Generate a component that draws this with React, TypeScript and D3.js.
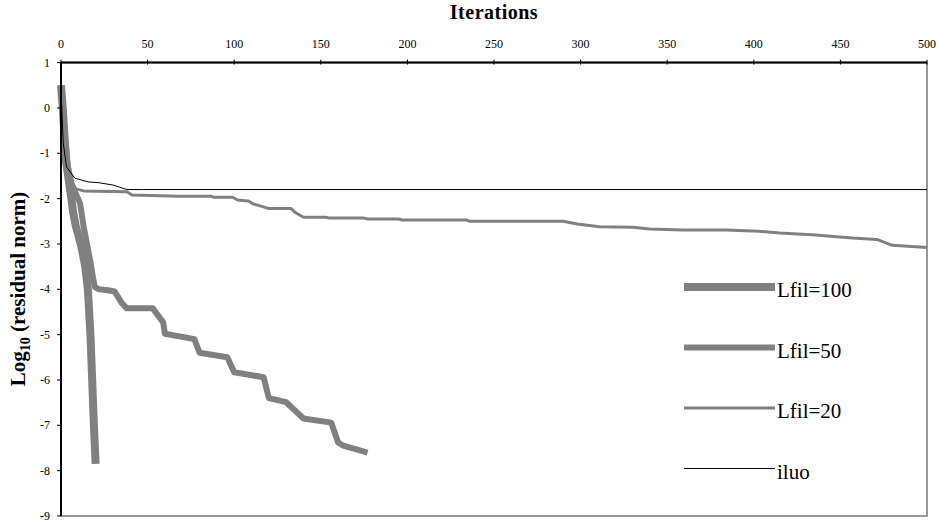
import { scaleLinear, line, range } from "d3";

// iteration vs log10(residual norm)
const lfil100 = [
  [0, 0.5], [1, 0], [2, -0.6], [3, -1.2], [4.5, -1.6], [6, -2.0], [7, -2.3],
  [8.5, -2.6], [10, -2.8], [12, -3.1], [14, -3.5], [15.5, -4.0], [17, -5.0],
  [18, -6.0], [19, -7.0], [20, -7.85],
];

const lfil50 = [
  [0, 0.5], [2, -0.5], [4, -1.3], [6, -1.65], [8, -1.85], [11, -2.1], [13, -2.6],
  [15, -3.0], [17, -3.4], [18.5, -3.75], [19.5, -3.95], [22, -4.0], [27, -4.02],
  [31, -4.05], [35, -4.3], [38, -4.42], [53, -4.42], [59, -4.73], [60, -4.98],
  [77, -5.1], [80, -5.4], [96, -5.5], [100, -5.83], [117, -5.94], [120, -6.4],
  [130, -6.49], [140, -6.85], [156, -6.94], [160, -7.38], [163, -7.45], [177, -7.6],
];

const lfil20 = [
  [0, 0.5], [1, -0.6], [2, -1.3], [5, -1.65], [8, -1.78], [13, -1.83], [38, -1.85],
  [41, -1.92], [68, -1.95], [87, -1.95], [88, -1.97], [99, -1.97], [102, -2.03],
  [108, -2.05], [111, -2.12], [116, -2.17], [120, -2.22], [133, -2.22], [135, -2.3],
  [140, -2.41], [153, -2.41], [155, -2.43], [175, -2.43], [177, -2.45], [195, -2.45],
  [197, -2.47], [234, -2.47], [236, -2.5], [290, -2.5], [298, -2.56], [311, -2.62],
  [330, -2.63], [340, -2.67], [359, -2.69], [384, -2.69], [403, -2.72], [415, -2.76],
  [436, -2.8], [444, -2.83], [457, -2.87], [471, -2.9], [480, -3.03], [500, -3.08],
];

const iluo = [
  [0, 0.4], [0.5, -0.05], [1.3, -0.78], [3.2, -1.3], [8, -1.55], [15.6, -1.63],
  [22, -1.65], [30, -1.7], [34, -1.75], [38, -1.8], [47, -1.8], [500, -1.8],
];

const seriesNames = ["Lfil=100", "Lfil=50", "Lfil=20", "iluo"];
const seriesData = [lfil100, lfil50, lfil20, iluo];
const seriesWidth = [8, 6, 3, 1];
const seriesColor = ["#808080", "#808080", "#808080", "#000000"];

const xTicks = range(0, 501, 50);
const yTicks = range(1, -9.5, -1);

const font = "Liberation Serif, DejaVu Serif, serif";

export default function App() {
  let width = 938;
  let height = 523;
  let margin = { top: 62.6, right: 11, bottom: 7, left: 61 };

  let xScale = scaleLinear()
    .domain([0, 500])
    .range([margin.left, width - margin.right]);
  let yScale = scaleLinear()
    .domain([1, -9])
    .range([margin.top, height - margin.bottom]);

  let lineGen = line<number[]>()
    .x((d) => xScale(d[0]))
    .y((d) => yScale(d[1]));

  let x0 = xScale(0);
  let x1 = xScale(500);
  let y0 = yScale(1);
  let y1 = yScale(-9);

  return (
    <svg
      width={width}
      height={height}
      style={{ position: "absolute", left: 0, top: 0, background: "#fff", fontFamily: font }}
    >
      {/* plot area border */}
      <rect x={x0} y={y0} width={x1 - x0} height={y1 - y0} fill="none" stroke="#999" strokeWidth={2} />

      {seriesData.map((d, i) => (
        <path
          key={seriesNames[i]}
          d={lineGen(d) || ""}
          fill="none"
          stroke={seriesColor[i]}
          strokeWidth={seriesWidth[i]}
          strokeLinejoin="round"
        />
      ))}

      {/* top x axis */}
      <line x1={x0} x2={x1} y1={y0} y2={y0} stroke="#000" strokeWidth={2} />
      {xTicks.map((t) => (
        <g key={t}>
          <line x1={xScale(t)} x2={xScale(t)} y1={y0 - 3} y2={y0 + 2} stroke="#000" strokeWidth={1} />
          <text x={xScale(t)} y={48} textAnchor="middle" fontSize={12} style={{ fontFamily: font }}>
            {t}
          </text>
        </g>
      ))}
      <text x={494} y={19} textAnchor="middle" fontSize={20} fontWeight="bold" letterSpacing={0.5} style={{ fontFamily: font }}>
        Iterations
      </text>

      {/* left y axis */}
      <line x1={x0} x2={x0} y1={y0} y2={y1} stroke="#000" strokeWidth={2} />
      {yTicks.map((t) => (
        <g key={t}>
          <line x1={x0 - 4} x2={x0} y1={yScale(t)} y2={yScale(t)} stroke="#000" strokeWidth={1} />
          <text x={50} y={yScale(t) + 4} textAnchor="end" fontSize={12} style={{ fontFamily: font }}>
            {t}
          </text>
        </g>
      ))}
      <text
        transform="translate(25,289) rotate(-90)"
        textAnchor="middle"
        fontSize={21}
        fontWeight="bold"
        style={{ fontFamily: font }}
      >
        Log<tspan fontSize={14} dy={5}>10</tspan>
        <tspan dy={-5}> (residual norm)</tspan>
      </text>

      {/* legend */}
      {seriesNames.map((name, i) => (
        <g key={name} transform={`translate(0,${287 + i * 60.5})`}>
          <line x1={684} x2={775} y1={0} y2={0} stroke={seriesColor[i]} strokeWidth={seriesWidth[i]} />
          <text x={777} y={10} fontSize={21} style={{ fontFamily: font }}>
            {name}
          </text>
        </g>
      ))}
    </svg>
  );
}
